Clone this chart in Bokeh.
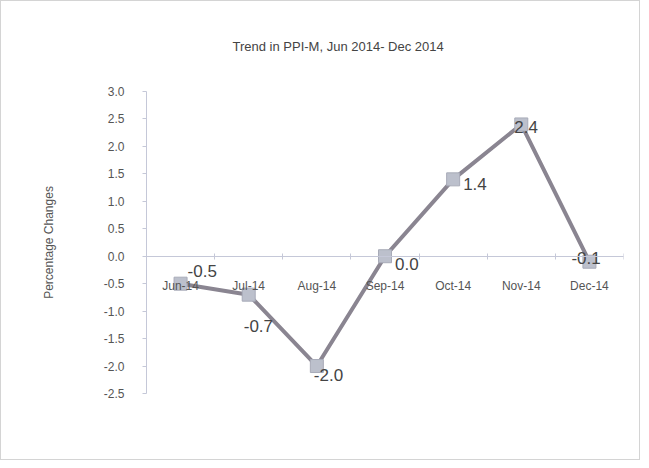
from bokeh.plotting import figure
from bokeh.models import FixedTicker, SingleIntervalTicker, NumeralTickFormatter, LinearAxis, Range1d, ColumnDataSource
from bokeh.embed import file_html
from bokeh.resources import INLINE

# data
months = ["Jun-14", "Jul-14", "Aug-14", "Sep-14", "Oct-14", "Nov-14", "Dec-14"]
changes = [-0.5, -0.7, -2.0, 0.0, 1.4, 2.4, -0.1]
value_labels = ["-0.5", "-0.7", "-2.0", "0.0", "1.4", "2.4", "-0.1"]

# label offsets (style)
lab_dx = [7, -5, -3, 10, 10, -7, -18]
lab_dy = [-13, 31, 9, 8, 5, 3, -4]

FONT = "Liberation Sans"
xs = [i + 0.5 for i in range(len(months))]

p = figure(width=640, height=460, output_backend="svg", toolbar_location=None,
           x_range=Range1d(0, len(months)), y_range=Range1d(-2.5, 3.0),
           min_border_left=145, min_border_right=18, min_border_top=90, min_border_bottom=68,
           title="Trend in PPI-M, Jun 2014- Dec 2014")
p.styles = {"border": "1px solid #d4d4d4"}
p.outline_line_color = None
p.xgrid.visible = False
p.ygrid.visible = False

p.title.text_font = FONT
p.title.text_font_size = "13px"
p.title.text_font_style = "normal"
p.title.text_color = "#444444"
p.title.align = "left"
p.title.offset = 86
p.title.standoff = 72
p.title.vertical_align = "top"

axis_col = "#c5c8d8"
text_col = "#555555"

# category label axis at y = 0
xa = p.xaxis[0]
xa.fixed_location = 0
xa.ticker = FixedTicker(ticks=xs)
xa.major_label_overrides = {x: m for x, m in zip(xs, months)}
xa.major_tick_line_color = None
xa.minor_tick_line_color = None
xa.axis_line_color = axis_col
xa.major_label_text_font = FONT
xa.major_label_text_font_size = "12px"
xa.major_label_text_color = text_col
xa.major_label_standoff = 17

# boundary ticks axis
xb = LinearAxis(fixed_location=0, ticker=FixedTicker(ticks=list(range(len(months) + 1))))
xb.major_label_text_color = None
xb.major_label_text_font_size = "1px"
xb.major_tick_line_color = axis_col
xb.major_tick_out = 3
xb.major_tick_in = 3
xb.minor_tick_line_color = None
xb.axis_line_color = axis_col
p.add_layout(xb, "below")

ya = p.yaxis[0]
ya.ticker = SingleIntervalTicker(interval=0.5)
ya.formatter = NumeralTickFormatter(format="0.0")
ya.axis_line_color = axis_col
ya.major_tick_line_color = axis_col
ya.major_tick_out = 4
ya.major_tick_in = 0
ya.minor_tick_line_color = None
ya.major_label_text_font = FONT
ya.major_label_text_font_size = "12px"
ya.major_label_text_color = text_col
ya.major_label_standoff = 18
ya.axis_label = "Percentage Changes"
ya.axis_label_text_font = FONT
ya.axis_label_text_font_size = "12px"
ya.axis_label_text_font_style = "normal"
ya.axis_label_text_color = text_col
ya.axis_label_standoff = 45

src = ColumnDataSource(dict(x=xs, y=changes, lab=value_labels, dx=lab_dx, dy=lab_dy))

p.line("x", "y", source=src, line_color="#8a8591", line_width=4)
p.scatter("x", "y", source=src, marker="square", size=13,
          fill_color="#bcc0cc", line_color="#a8abb8", line_width=1)
p.text("x", "y", text="lab", source=src, x_offset="dx", y_offset="dy",
       text_font_size="17px", text_color="#444444", text_align="left",
       text_baseline="middle", text_font={"value": FONT})

open("out.html", "w").write(file_html(p, INLINE))
